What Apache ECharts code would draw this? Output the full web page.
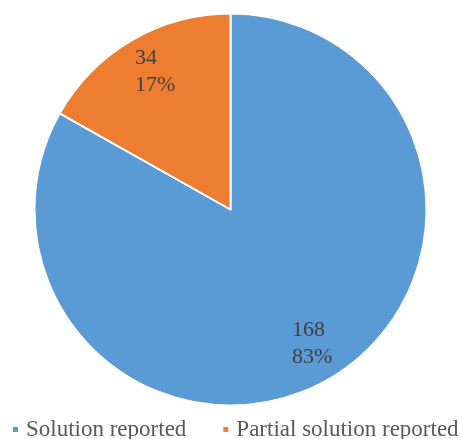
<!DOCTYPE html>
<html>
<head>
<meta charset="utf-8">
<script src="https://cdn.jsdelivr.net/npm/echarts@6/dist/echarts.min.js"></script>
<style>
html,body{margin:0;padding:0;background:#fff;}
#chart{width:462px;height:439px;}
</style>
</head>
<body>
<div id="chart"></div>
<script>
const categories = ['Solution reported', 'Partial solution reported'];
const values = [168, 34];
const colors = ['#5B9BD5', '#ED7D31'];

const FONT = "'Liberation Serif', 'Times New Roman', serif";
const labelNudge = [[2, -4], [6, 0]];
const data = categories.map((c, i) => ({
  name: c,
  value: values[i],
  label: { offset: labelNudge[i] }
}));
const R = 196;

const chart = echarts.init(document.getElementById('chart'), null, { renderer: 'canvas' });
chart.setOption({
  animation: false,
  color: colors,
  legend: {
    data: categories,
    left: 11,
    top: 418,
    padding: 0,
    width: 600,
    itemGap: 35,
    itemWidth: 7,
    itemHeight: 7,
    icon: 'rect',
    textStyle: { fontFamily: FONT, fontSize: 23, color: '#595959', padding: [0, 0, 0, 2] }
  },
  series: [
    {
      type: 'pie',
      center: [230.5, 209.5],
      radius: [0, R],
      startAngle: 90,
      clockwise: true,
      silent: true,
      data: categories.map((c, i) => ({ name: c, value: values[i] })),
      label: { show: false },
      labelLine: { show: false },
      itemStyle: { borderColor: '#ffffff', borderWidth: 2 }
    },
    {
      type: 'pie',
      center: [230.5, 209.5],
      radius: [R * 0.6, R],
      startAngle: 90,
      clockwise: true,
      silent: true,
      data: data,
      itemStyle: { color: 'rgba(0,0,0,0)', borderWidth: 0 },
      labelLine: { show: false },
      label: {
        show: true,
        position: 'inside',
        formatter: p => '{a|' + p.value + '}\n{a|' + Math.round(p.percent) + '%}',
        rich: {
          a: { fontFamily: FONT, fontSize: 22, lineHeight: 27, color: '#404040', width: 42, align: 'left' }
        }
      }
    }
  ]
});
</script>
</body>
</html>
